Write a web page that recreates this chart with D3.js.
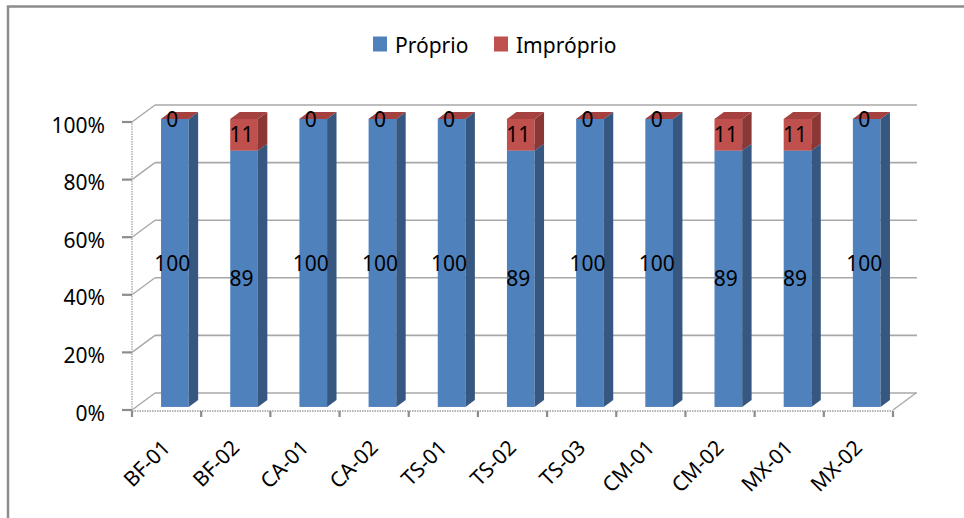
<!DOCTYPE html>
<html>
<head>
<meta charset="utf-8">
<script src="https://cdn.jsdelivr.net/npm/d3@7/dist/d3.min.js"></script>
<style>
  html, body { margin: 0; padding: 0; background: #fff; }
  svg { display: block; font-family: "Noto Sans", "Open Sans", sans-serif; }
</style>
</head>
<body>
<svg id="chart" width="964" height="518"></svg>
<script>
// Sampling points and the share of each quality class (%)
const categories = ["BF-01", "BF-02", "CA-01", "CA-02", "TS-01", "TS-02", "TS-03", "CM-01", "CM-02", "MX-01", "MX-02"];
const proprio    = [100, 89, 100, 100, 100, 89, 100, 100, 89, 89, 100];
const improprio  = [0, 11, 0, 0, 0, 11, 0, 0, 11, 11, 0];
const seriesNames = ["Próprio", "Impróprio"];
const yTicks = [0, 20, 40, 60, 80, 100];

const palette = {
  "Próprio":   { front: "#4F81BD", side: "#36577F", top: "#6F95C8" },
  "Impróprio": { front: "#C0504D", side: "#8A3735", top: "#A5423F" }
};

const svg = d3.select("#chart");

// Outer frame of the chart area
svg.append("rect")
  .attr("x", 8).attr("y", 6.5).attr("width", 1100).attr("height", 700)
  .attr("fill", "none").attr("stroke", "#8C8C8C").attr("stroke-width", 2.5);

// Front plane scales; the back wall is the same plane shifted by the depth vector
const x = d3.scaleBand().domain(categories).range([132, 893]).padding(0);
const y = d3.scaleLinear().domain([0, 100]).range([410, 122]);
const depth = { dx: 23, dy: -17 };

// Bars sit inside the depth between these fractions
const barFront = 0.18, barBack = 0.59;
const barOffset = 0.36, barWidthFrac = 0.4;

const g = svg.append("g");

// Back wall gridlines and side wall connectors
yTicks.forEach(t => {
  const yf = y(t);
  g.append("line")
    .attr("x1", x.range()[0] + depth.dx).attr("x2", x.range()[1] + depth.dx + 1)
    .attr("y1", yf + depth.dy).attr("y2", yf + depth.dy)
    .attr("stroke", "#A8A8A8").attr("stroke-width", 1.6);
  g.append("line")
    .attr("x1", x.range()[0]).attr("x2", x.range()[0] + depth.dx)
    .attr("y1", yf).attr("y2", yf + depth.dy)
    .attr("stroke", "#A8A8A8").attr("stroke-width", 1.4);
});

// Floor right edge
g.append("line")
  .attr("x1", x.range()[1]).attr("y1", y(0))
  .attr("x2", x.range()[1] + depth.dx).attr("y2", y(0) + depth.dy)
  .attr("stroke", "#A8A8A8").attr("stroke-width", 1.4);

// Front value axis
g.append("line")
  .attr("x1", x.range()[0]).attr("x2", x.range()[0])
  .attr("y1", y(0)).attr("y2", y(100))
  .attr("stroke", "#B4B4B4").attr("stroke-width", 1.6)
  .attr("stroke-dasharray", "1.5,1");
yTicks.forEach(t => {
  g.append("line")
    .attr("x1", x.range()[0] - 10).attr("x2", x.range()[0])
    .attr("y1", y(t)).attr("y2", y(t))
    .attr("stroke", "#8C8C8C").attr("stroke-width", 2.2);
  g.append("text")
    .attr("x", 105).attr("y", y(t) + 3)
    .attr("dy", "0.36em")
    .attr("text-anchor", "end")
    .attr("font-size", 21).attr("fill", "#000")
    .text(t + "%");
});

// Front category axis
g.append("line")
  .attr("x1", x.range()[0]).attr("x2", x.range()[1])
  .attr("y1", y(0) + 1).attr("y2", y(0) + 1)
  .attr("stroke", "#B4B4B4").attr("stroke-width", 1.8)
  .attr("stroke-dasharray", "1.5,1");
const boundaries = categories.map(c => x(c)).concat([x.range()[1]]);
boundaries.forEach(bx => {
  g.append("line")
    .attr("x1", bx).attr("x2", bx)
    .attr("y1", y(0) + 1).attr("y2", y(0) + 7)
    .attr("stroke", "#8C8C8C").attr("stroke-width", 2.2);
});
categories.forEach(c => {
  const cx = x(c) + x.bandwidth() / 2 + 5;
  const cy = 449;
  g.append("text")
    .attr("transform", `translate(${cx},${cy}) rotate(-45)`)
    .attr("text-anchor", "end")
    .attr("font-size", 21).attr("fill", "#000")
    .text(c);
});

// 3D stacked bars
const stackData = categories.map((c, i) => ({ cat: c, "Próprio": proprio[i], "Impróprio": improprio[i] }));
const stacked = d3.stack().keys(seriesNames)(stackData);

const bw = x.bandwidth() * barWidthFrac;
const fdx = depth.dx * barFront, fdy = depth.dy * barFront;
const ddx = depth.dx * (barBack - barFront), ddy = depth.dy * (barBack - barFront);

const bars = svg.append("g");
const labels = svg.append("g");

categories.forEach((c, i) => {
  const left = x(c) + x.bandwidth() * barOffset + fdx;
  const right = left + bw;
  stacked.forEach(layer => {
    const key = layer.key;
    const [v0, v1] = layer[i];
    const yb = y(v0) + fdy, yt = y(v1) + fdy;
    const col = palette[key];
    // front face
    bars.append("rect")
      .attr("x", left).attr("y", yt)
      .attr("width", bw).attr("height", Math.max(0, yb - yt))
      .attr("fill", col.front);
    // side face
    bars.append("path")
      .attr("d", `M${right},${yb} L${right},${yt} L${right + ddx},${yt + ddy} L${right + ddx},${yb + ddy} Z`)
      .attr("fill", col.side);
    // top face
    bars.append("path")
      .attr("d", `M${left},${yt} L${right},${yt} L${right + ddx},${yt + ddy} L${left + ddx},${yt + ddy} Z`)
      .attr("fill", col.top);
    // value label at the middle of the segment
    labels.append("text")
      .attr("x", (left + right) / 2 - 2.5)
      .attr("y", (yb + yt) / 2)
      .attr("dy", "0.36em")
      .attr("text-anchor", "middle")
      .attr("font-size", 21).attr("fill", "#000")
      .text(v1 - v0);
  });
});

// Legend
const legend = svg.append("g");
const legendItems = [
  { name: seriesNames[0], sx: 373, tx: 395 },
  { name: seriesNames[1], sx: 494, tx: 516 }
];
legendItems.forEach(it => {
  legend.append("rect")
    .attr("x", it.sx).attr("y", 36.5)
    .attr("width", 14).attr("height", 15)
    .attr("fill", palette[it.name].front);
  legend.append("text")
    .attr("x", it.tx).attr("y", 53)
    .attr("font-size", 21).attr("fill", "#000")
    .text(it.name);
});
</script>
</body>
</html>
